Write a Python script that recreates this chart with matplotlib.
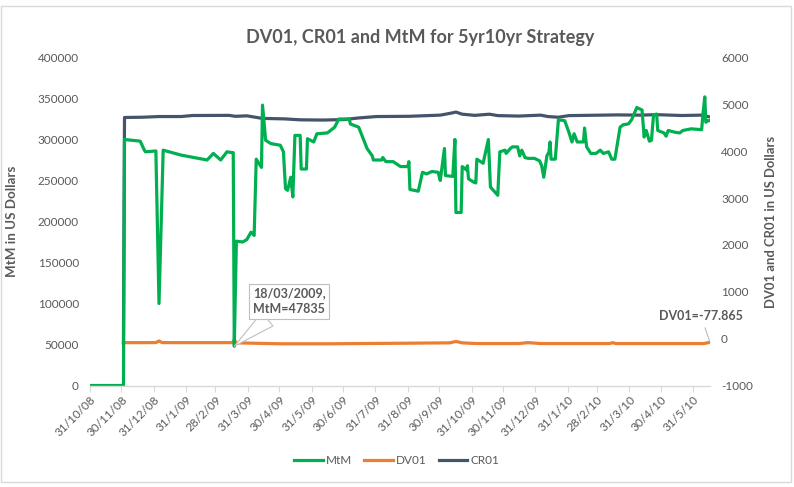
import matplotlib
matplotlib.use("Agg")
import matplotlib.pyplot as plt
import numpy as np
import pandas as pd
from matplotlib.patches import Rectangle

plt.rcParams["font.family"] = ["Lato", "DejaVu Sans"]

GREEN = "#00B050"; ORANGE = "#ED7D31"; SLATE = "#44546A"
TXT = "#595959"; AXC = "#D9D9D9"

# ---- data ----
mtm_dates = ["2008-10-31","2008-12-02","2008-12-03","2008-12-18","2008-12-22","2008-12-23","2009-01-02",
    "2009-01-05","2009-01-09","2009-01-26","2009-02-20","2009-02-26","2009-03-05","2009-03-11","2009-03-16",
    "2009-03-17","2009-03-18","2009-03-20","2009-03-26","2009-03-30","2009-04-03","2009-04-06","2009-04-08",
    "2009-04-13","2009-04-14","2009-04-17","2009-04-22","2009-05-01","2009-05-04","2009-05-06","2009-05-08",
    "2009-05-11","2009-05-13","2009-05-15","2009-05-20","2009-05-21","2009-05-26","2009-05-27","2009-06-02",
    "2009-06-05","2009-06-15","2009-06-22","2009-06-26","2009-07-06","2009-07-07","2009-07-15","2009-07-23",
    "2009-07-28","2009-07-29","2009-08-06","2009-08-07","2009-08-10","2009-08-17","2009-08-24","2009-08-31",
    "2009-09-01","2009-09-02","2009-09-10","2009-09-14","2009-09-18","2009-09-23","2009-09-29","2009-10-01",
    "2009-10-05","2009-10-06","2009-10-13","2009-10-15","2009-10-16","2009-10-21","2009-10-22","2009-10-26",
    "2009-10-27","2009-10-28","2009-11-02","2009-11-04","2009-11-05","2009-11-11","2009-11-16","2009-11-18",
    "2009-11-25","2009-11-27","2009-12-02","2009-12-03","2009-12-07","2009-12-09","2009-12-14","2009-12-16",
    "2009-12-18","2009-12-21","2009-12-24","2009-12-30","2010-01-04","2010-01-06","2010-01-08","2010-01-11",
    "2010-01-13","2010-01-14","2010-01-15","2010-01-19","2010-01-22","2010-01-28","2010-02-01","2010-02-04",
    "2010-02-06","2010-02-09","2010-02-15","2010-02-16","2010-02-18","2010-02-22","2010-02-27","2010-03-03",
    "2010-03-06","2010-03-11","2010-03-14","2010-03-17","2010-03-22","2010-03-25","2010-03-30","2010-04-02",
    "2010-04-07","2010-04-12","2010-04-14","2010-04-16","2010-04-19","2010-04-21","2010-04-23","2010-04-26",
    "2010-04-27","2010-05-03","2010-05-05","2010-05-07","2010-05-13","2010-05-18","2010-05-21","2010-05-29",
    "2010-06-08","2010-06-09","2010-06-11","2010-06-12","2010-06-14","2010-06-16"]
mtm_values = [0,0,300000,298000,287000,285000,286000,
    100000,287000,281000,275000,283000,275000,285000,284000,
    284000,47835,176000,175000,178000,187000,183000,276000,
    266000,342000,299000,295000,293000,285000,240000,238000,
    254000,230000,305000,305000,264000,264000,301000,297000,
    307000,308000,315000,325000,325000,319000,315000,289000,
    280000,275000,275000,278000,273000,273000,267000,267000,
    273000,239000,237000,260000,258000,261000,260000,250000,
    289000,256000,255000,300000,211000,211000,267000,263000,
    268000,252000,248000,247000,276000,271000,300000,242000,
    232000,285000,287000,283000,289000,291000,291000,280000,
    287000,278000,277000,277000,274000,268000,254000,280000,
    285000,297000,276000,276000,324000,323000,309000,297000,
    307000,297000,297000,314000,291000,283000,283000,287000,
    283000,285000,276000,276000,315000,318000,319000,324000,
    339000,336000,303000,311000,298000,299000,330000,331000,
    311000,308000,304000,311000,309000,308000,311000,313000,
    312000,327000,352000,321000,323000,323000]

dv01_dates = ["2008-12-02","2009-01-02","2009-01-05","2009-01-08","2009-03-16","2009-03-18","2009-03-20",
    "2009-04-10","2009-05-01","2009-06-15","2009-08-15","2009-10-10","2009-10-16","2009-10-22","2009-11-05",
    "2009-12-15","2009-12-24","2010-01-05","2010-03-12","2010-03-15","2010-03-18","2010-06-10","2010-06-16"]
dv01_values = [-85,-85,-50,-85,-85,-30,-90,
    -100,-110,-110,-100,-90,-60,-90,-105,
    -105,-85,-105,-105,-85,-105,-105,-77.865]

cr01_dates = ["2008-12-02","2008-12-03","2008-12-20","2009-01-05","2009-01-26","2009-02-06","2009-03-13",
    "2009-03-19","2009-03-30","2009-04-14","2009-05-05","2009-05-20","2009-06-10","2009-07-01","2009-07-15",
    "2009-08-01","2009-09-01","2009-10-01","2009-10-06","2009-10-13","2009-10-16","2009-10-22","2009-11-03",
    "2009-11-17","2009-11-25","2009-12-15","2010-01-05","2010-01-12","2010-01-22","2010-02-01","2010-03-20",
    "2010-04-10","2010-04-26","2010-05-20","2010-06-08","2010-06-16"]
cr01_values = [-100,4720,4725,4740,4740,4762,4765,
    4745,4755,4700,4690,4670,4665,4675,4710,
    4740,4745,4770,4790,4820,4835,4790,4765,
    4790,4760,4750,4770,4740,4725,4760,4775,
    4770,4780,4762,4770,4730]

xtick_labels = ["31/10/08","30/11/08","31/12/08","31/1/09","28/2/09","31/3/09","30/4/09","31/5/09",
    "30/6/09","31/7/09","31/8/09","30/9/09","31/10/09","30/11/09","31/12/09","31/1/10","28/2/10",
    "31/3/10","30/4/10","31/5/10"]

mtm_x = pd.to_datetime(mtm_dates)
dv01_x = pd.to_datetime(dv01_dates)
cr01_x = pd.to_datetime(cr01_dates)
tick_x = pd.to_datetime(xtick_labels, format="%d/%m/%y")

fig = plt.figure(figsize=(7.94, 4.87), dpi=100)
fig.patches.append(Rectangle((1/794, 5/487), 790/794, 476/487, transform=fig.transFigure,
                             fill=False, ec=AXC, lw=1.0))

ax2 = fig.add_axes([90/794, 1-385.5/487, 620/794, 328/487])
ax = fig.add_axes([90/794, 1-385.5/487, 620/794, 328/487], sharex=ax2)
ax.patch.set_visible(False)

lw = 2.3
l_dv, = ax2.plot(dv01_x, dv01_values, color=ORANGE, lw=lw, solid_joinstyle="round", label="DV01")
l_cr, = ax2.plot(cr01_x, cr01_values, color=SLATE, lw=lw, solid_joinstyle="round", label="CR01")
l_mt, = ax.plot(mtm_x, mtm_values, color=GREEN, lw=lw, solid_joinstyle="round", label="MtM")

ax.set_ylim(0, 400000)
ax.set_yticks(np.arange(0, 400001, 50000))
ax2.set_ylim(-1000, 6000)
ax2.set_yticks(np.arange(-1000, 6001, 1000))
ax2.yaxis.tick_right()
ax2.yaxis.set_label_position("right")
ax.set_xlim(pd.Timestamp("2008-10-31"), pd.Timestamp("2010-06-16"))

for a in (ax, ax2):
    for s in ("top", "left", "right"):
        a.spines[s].set_visible(False)
    a.tick_params(axis="y", length=0, labelsize=8.5, labelcolor=TXT, pad=8)
ax.yaxis.set_major_formatter(matplotlib.ticker.FuncFormatter(lambda v, p: f"{int(v)}"))
ax2.yaxis.set_major_formatter(matplotlib.ticker.FuncFormatter(lambda v, p: f"{int(v)}"))
ax2.spines["bottom"].set_visible(False)
ax.spines["bottom"].set_color(AXC)
ax.spines["bottom"].set_linewidth(1.0)

ax.set_xticks(tick_x)
ax.set_xticklabels(xtick_labels, rotation=45, ha="right", rotation_mode="anchor")
ax.tick_params(axis="x", length=4, color=AXC, labelsize=8.5, labelcolor=TXT, pad=2)
ax2.tick_params(axis="x", which="both", bottom=False, labelbottom=False)

ax.set_ylabel("MtM in US Dollars", fontsize=9.6, fontweight="bold", color=TXT)
ax2.set_ylabel("DV01 and CR01 in US Dollars", fontsize=9.4, fontweight="bold", color=TXT)
ax.yaxis.set_label_coords(-72/620, 0.5)
ax2.yaxis.set_label_coords(1 + 55/620, 0.5)

fig.text(420/794, 1-38/487, "DV01, CR01 and MtM for 5yr10yr Strategy", ha="center", va="center",
         fontsize=13, fontweight="bold", color=TXT)

# callouts
i_min = mtm_values.index(min(mtm_values[2:]))
ax.annotate(f"18/03/2009,\nMtM={mtm_values[i_min]}", xy=(mtm_x[i_min], mtm_values[i_min]),
            xytext=(55, 45), textcoords="offset pixels", ha="center", va="center",
            fontsize=9, fontweight="bold", color=TXT, linespacing=1.35, zorder=10,
            bbox=dict(boxstyle="square,pad=0.3", fc="white", ec="#BFBFBF", lw=0.8),
            arrowprops=dict(arrowstyle="wedge,tail_width=1.4", fc="white", ec="#BFBFBF", lw=0.8,
                            shrinkA=0, shrinkB=0))
ax2.annotate(f"DV01={dv01_values[-1]}", xy=(dv01_x[-1], dv01_values[-1]),
             xytext=(-9, 26), textcoords="offset pixels", ha="center", va="center",
             fontsize=9, fontweight="bold", color=TXT, annotation_clip=False, zorder=10,
             arrowprops=dict(arrowstyle="-", color="#A6A6A6", lw=0.6, shrinkA=2, shrinkB=0))

fig.legend(handles=[l_mt, l_dv, l_cr], loc="center", bbox_to_anchor=(397/794, 1-461/487), ncol=3,
           frameon=False, fontsize=8.5, labelcolor=TXT, handlelength=2.4, handletextpad=0.3,
           columnspacing=1.0)

fig.savefig("out.png", dpi=100, facecolor="white")
